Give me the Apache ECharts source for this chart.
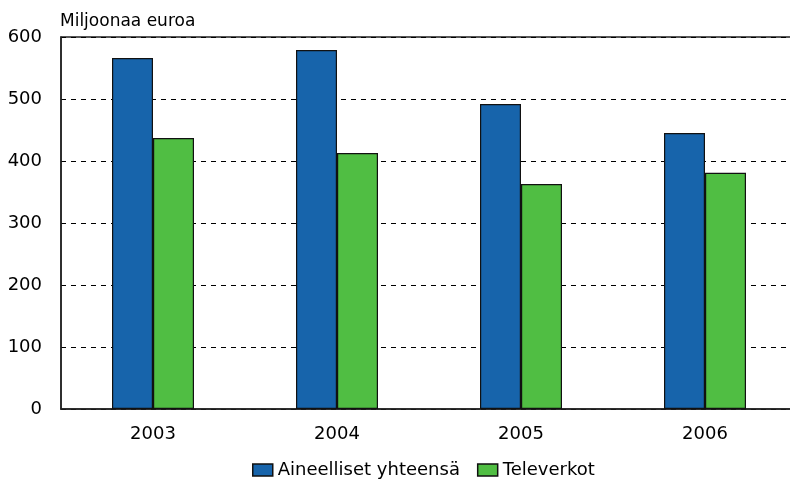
<!DOCTYPE html>
<html><head><meta charset="utf-8">
<script src="https://cdn.jsdelivr.net/npm/echarts@6/dist/echarts.min.js"></script>
<style>html,body{margin:0;padding:0;background:#fff}#c{width:790px;height:479px}</style>
</head><body><div id="c"></div>
<script>
const categories = ['2003','2004','2005','2006'];
const aineelliset = [566, 579, 492, 445];
const televerkot = [437, 413, 363, 381];
const seriesNames = ['Aineelliset yhteensä','Televerkot'];
const yTicks = [0,100,200,300,400,500,600];

const chart = echarts.init(document.getElementById('c'));
const font = 'DejaVu Sans, sans-serif';
chart.setOption({
  animation:false,
  textStyle:{fontFamily:font},
  grid:{left:61,top:37,width:736,height:372,outerBoundsMode:'none',containLabel:false,show:true,borderColor:'#222',borderWidth:1.5},
  legend:{top:456,left:247,itemWidth:20,itemHeight:12,itemGap:17,
    textStyle:{fontSize:18,color:'#000',fontFamily:font},
    data:seriesNames.map(n=>({name:n,icon:'rect',itemStyle:{borderColor:'#111',borderWidth:1.5}}))},
  title:{text:'Miljoonaa euroa',left:55,top:8,textStyle:{fontSize:17,fontWeight:'normal',color:'#000',fontFamily:font}},
  xAxis:{type:'category',data:categories,axisTick:{show:false},
    axisLine:{lineStyle:{color:'#222',width:1.5}},
    axisLabel:{fontSize:18,color:'#000',margin:16}},
  yAxis:{type:'value',min:0,max:600,interval:100,
    axisLine:{show:true,lineStyle:{color:'#222',width:1.5}},axisTick:{show:false},
    axisLabel:{fontSize:18,color:'#000',margin:19,formatter:v=>yTicks.includes(v)?String(v):''},
    splitLine:{lineStyle:{color:'#000',type:[5,5],width:1}}},
  series:[
    {name:seriesNames[0],type:'bar',data:aineelliset,barWidth:41,barGap:'0%',
      itemStyle:{color:'#1764AB',borderColor:'#111',borderWidth:1.2}},
    {name:seriesNames[1],type:'bar',data:televerkot,barWidth:41,barGap:'0%',
      itemStyle:{color:'#50BE43',borderColor:'#111',borderWidth:1.2}}
  ]
});
</script></body></html>
